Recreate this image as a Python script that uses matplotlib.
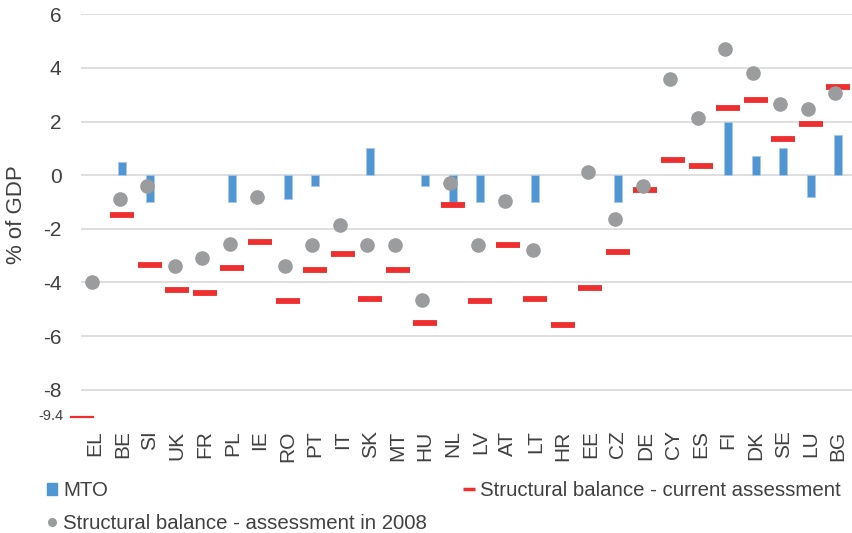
import matplotlib.pyplot as plt
import matplotlib.lines as mlines
import matplotlib.patches as mpatches
import numpy as np

countries = ["EL", "BE", "SI", "UK", "FR", "PL", "IE", "RO", "PT", "IT", "SK", "MT", "HU", "NL",
             "LV", "AT", "LT", "HR", "EE", "CZ", "DE", "CY", "ES", "FI", "DK", "SE", "LU", "BG"]
mto = [np.nan, 0.5, -1.0, np.nan, np.nan, -1.0, np.nan, -0.9, -0.4, np.nan, 1.0, np.nan, -0.4, -1.0,
       -1.0, np.nan, -1.0, np.nan, np.nan, -1.0, np.nan, np.nan, np.nan, 2.0, 0.7, 1.0, -0.8, 1.5]
sb_current = [-9.4, -1.5, -3.35, -4.3, -4.4, -3.45, -2.5, -4.7, -3.55, -2.95, -4.6, -3.55, -5.5, -1.1,
              -4.7, -2.6, -4.6, -5.6, -4.2, -2.85, -0.55, 0.55, 0.35, 2.5, 2.8, 1.35, 1.9, 3.3]
sb_2008 = [-4.0, -0.9, -0.4, -3.4, -3.1, -2.55, -0.8, -3.4, -2.6, -1.85, -2.6, -2.6, -4.65, -0.3,
           -2.6, -0.95, -2.8, np.nan, 0.1, -1.65, -0.4, 3.6, 2.15, 4.7, 3.8, 2.65, 2.45, 3.05]

blue = "#4f96d3"
red = "#ee2f2f"
grey = "#9a9c9e"
txt = "#404040"

plt.rcParams['font.family'] = ['Liberation Sans', 'DejaVu Sans']

ymin, ymax = -9, 6
fig = plt.figure(figsize=(8.53, 5.33), dpi=100)
ax = fig.add_axes([81/853, 1 - 416.5/533, 771/853, (416.5 - 14.3)/533])

x = np.arange(len(countries))
ax.bar(x, mto, width=0.29, color=blue, edgecolor="#a8c8e8", linewidth=0.6, zorder=2)

cur = np.array(sb_current)
inside = cur >= ymin
ax.plot(x[inside], cur[inside], ls="none", marker="_", markersize=17.5,
        markeredgewidth=4.2, color=red, zorder=3)
# value below the axis range: thin mark at the bottom edge plus a label
for i in np.where(~inside)[0]:
    ax.plot([x[i] - 0.88, x[i] - 0.05], [ymin, ymin], color=red, lw=1.6,
            clip_on=False, zorder=4)
    ax.text(x[i] - 1.15, ymin, f"{cur[i]:g}", ha="right", va="center",
            fontsize=10.5, color=txt)

ax.plot(x - 0.1, sb_2008, ls="none", marker="o", markersize=9.5, color=grey, zorder=4)

ax.set_xlim(-0.5, len(countries) - 0.5)
ax.set_ylim(ymin, ymax)
ax.set_yticks(np.arange(-8, 7, 2))
ax.set_yticklabels([f"{v}" for v in range(-8, 7, 2)])
ax.set_xticks(x)
ax.set_xticklabels(countries, rotation=90)
ax.tick_params(axis="y", length=0, pad=14, labelsize=15, labelcolor=txt)
ax.tick_params(axis="x", length=0, pad=10, labelsize=15, labelcolor=txt)
ax.grid(axis="y", color="#d9d9d9", lw=1.2, zorder=0)
ax.set_axisbelow(True)
for s in ax.spines.values():
    s.set_visible(False)

fig.text(17/853, 1 - 215/533, "% of GDP", rotation=90, ha="center", va="center",
         fontsize=16, color=txt)

h_mto = mpatches.Patch(color=blue, label="MTO")
h_2008 = mlines.Line2D([], [], ls="none", marker="o", markersize=5.5, color=grey,
                       label="Structural balance - assessment in 2008")
h_cur = mlines.Line2D([], [], ls="none", marker="_", markersize=8.5, markeredgewidth=2.5,
                      color=red, label="Structural balance - current assessment")
fig.legend(handles=[h_mto, h_2008, h_cur], ncol=2, loc="upper left",
           bbox_to_anchor=(47/853, 1 - 481/533), frameon=False, fontsize=14.7,
           handlelength=0.5, handleheight=0.5, handletextpad=0.3, columnspacing=1.8,
           labelspacing=0.68, labelcolor=txt, borderaxespad=0, borderpad=0)

fig.savefig("out.png", dpi=100)
